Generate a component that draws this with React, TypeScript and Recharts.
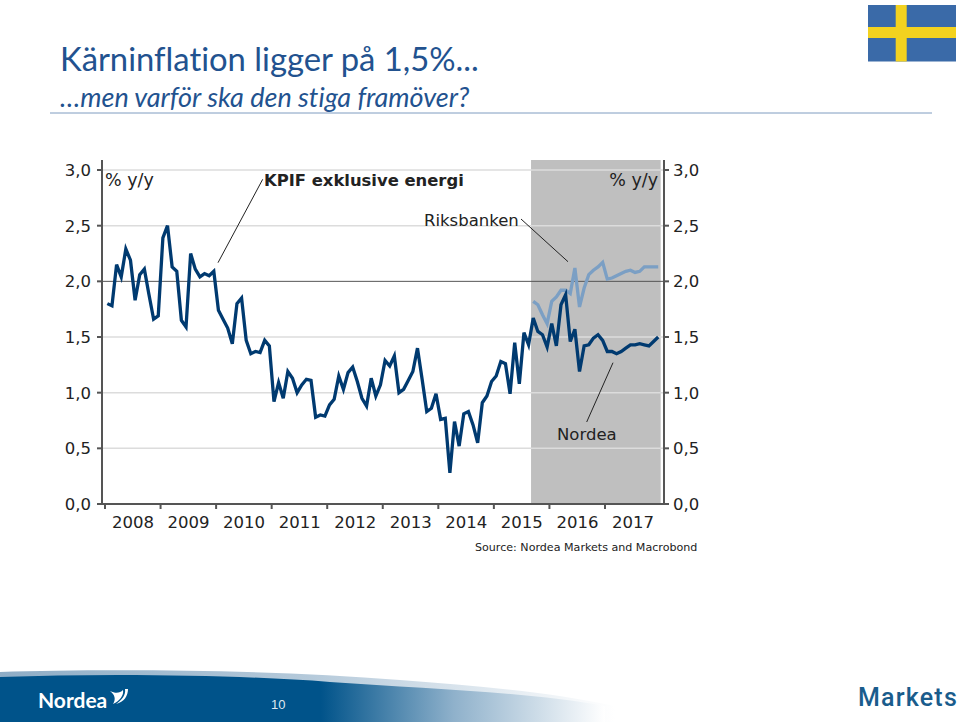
import React from "react";
import { LineChart, Line, XAxis, YAxis, ReferenceArea, ReferenceLine } from "recharts";

const yearLabels = ["2008","2009","2010","2011","2012","2013","2014","2015","2016","2017"];
const yTicks = [0,0.5,1,1.5,2,2.5,3];
const nordeaValues = [
1.80,1.78,2.15,2.04,2.29,2.19,1.83,2.06,2.11,1.88,1.66,1.69,
2.39,2.50,2.13,2.09,1.65,1.59,2.25,2.11,2.04,2.07,2.05,2.09,
1.74,1.66,1.58,1.44,1.80,1.85,1.47,1.35,1.37,1.36,1.47,1.42,
0.92,1.09,0.95,1.19,1.13,1.00,1.07,1.12,1.11,0.78,0.80,0.79,
0.89,0.94,1.15,1.03,1.18,1.23,1.10,0.95,0.88,1.13,0.97,1.07,
1.29,1.24,1.33,1.00,1.03,1.11,1.19,1.40,1.12,0.83,0.86,0.99,
0.76,0.77,0.28,0.74,0.52,0.81,0.83,0.71,0.55,0.91,0.97,1.10,
1.15,1.28,1.26,0.99,1.45,1.08,1.54,1.43,1.67,1.55,1.52,1.41,
1.62,1.42,1.79,1.88,1.46,1.57,1.19,1.42,1.43,1.49,1.52,1.47,
1.37,1.37,1.35,1.37,1.40,1.43,1.43,1.44,1.43,1.42,1.46,1.50];
const riksbankenStart = 92;
const riksbankenValues = [
1.82,1.79,1.70,1.62,1.82,1.86,1.92,1.92,1.89,2.12,1.77,1.94,
2.06,2.10,2.13,2.17,2.02,2.03,2.05,2.07,2.09,2.10,2.08,2.09,2.13,2.13,2.13,2.13];

const rows = nordeaValues.map((nordea, i) => ({
  month: i + 0.5,
  nordea,
  riksbanken: i >= riksbankenStart ? riksbankenValues[i - riksbankenStart] : null,
}));
const xTicks = yearLabels.map((_, i) => i * 12);
const axisFont = "'DejaVu Sans', sans-serif";
const tickStyle = { fontFamily: axisFont, fontSize: 16.5, fill: "#222" };
const comma = (v: number) => v.toFixed(1).replace(".", ",");

export default function App() {
  return (
    <div style={{ position: "absolute", left: 0, top: 0, width: 960, height: 722, background: "#fff", overflow: "hidden" }}>
      <svg width={960} height={722} style={{ position: "absolute", left: 0, top: 0 }}>
        <defs>
          <linearGradient id="dark" x1="0" x2="1" y1="0" y2="0">
            <stop offset="0" stopColor="#00538a" />
            <stop offset="0.53" stopColor="#00538a" />
            <stop offset="0.75" stopColor="#8fb1cb" />
            <stop offset="1" stopColor="#ffffff" />
          </linearGradient>
          <linearGradient id="pale" x1="0" x2="1" y1="0" y2="0">
            <stop offset="0" stopColor="#8fadc6" />
            <stop offset="0.5" stopColor="#b4c9da" />
            <stop offset="1" stopColor="#ffffff" />
          </linearGradient>
        </defs>
        <path d="M0 672 C100 669 260 669 400 680 C480 686 550 692 615 706 L615 722 L0 722 Z" fill="url(#pale)" />
        <path d="M0 677 C110 673 240 675 330 682 C430 689 530 692 605 706 L605 722 L0 722 Z" fill="url(#dark)" />
      </svg>
      <div style={{ position: "absolute", left: 0, top: 0 }}>
        <LineChart width={960} height={722} data={rows} margin={{ top: 160, right: 0, bottom: 0, left: 0 }}>
          <ReferenceArea yAxisId="left" x1={92.03} x2={120.03} y1={0} y2={3.09} fill="#bfbfbf" fillOpacity={1} stroke="none" />
          {yTicks.filter((t) => t !== 0 && t !== 2).map((t) => (
            <ReferenceLine key={t} yAxisId="left" y={t} stroke="#dcdcdc" strokeWidth={1.5} />
          ))}
          <ReferenceLine yAxisId="left" y={2} stroke="#555" strokeWidth={1} />
          <XAxis
            dataKey="month"
            type="number"
            domain={[-0.65, 120.75]}
            ticks={xTicks}
            interval={0}
            height={218}
            tickSize={5}
            tickMargin={7}
            tickFormatter={(v: number) => yearLabels[v / 12]}
            tick={{ ...tickStyle, dx: 28 }}
            stroke="#555"
            strokeWidth={2}
            tickLine={{ stroke: "#555", strokeWidth: 2 }}
            allowDataOverflow
          />
          <YAxis yAxisId="left" width={102} domain={[0, 3.09]} ticks={yTicks} interval={0} tickSize={5} tickMargin={6}
            tickFormatter={comma} tick={tickStyle} stroke="#555" strokeWidth={2} tickLine={{ stroke: "#555", strokeWidth: 2 }} />
          <YAxis yAxisId="right" orientation="right" width={296} domain={[0, 3.09]} ticks={yTicks} interval={0} tickSize={5} tickMargin={4}
            tickFormatter={comma} tick={tickStyle} stroke="#555" strokeWidth={2} tickLine={{ stroke: "#555", strokeWidth: 2 }} />
          <Line yAxisId="right" dataKey="riksbanken" stroke="#7b9fc4" strokeWidth={3.3} dot={false} isAnimationActive={false} connectNulls={false} strokeLinejoin="miter" />
          <Line yAxisId="left" dataKey="nordea" stroke="#003a70" strokeWidth={3.3} dot={false} isAnimationActive={false} strokeLinejoin="miter" />
        </LineChart>
      </div>
      <svg width={960} height={722} style={{ position: "absolute", left: 0, top: 0, pointerEvents: "none" }}>
        <text x={60} y={71} fontFamily="Lato, sans-serif" fontSize={32.8} fill="#22528f" style={{ fontVariantLigatures: "none" }}>Kärninflation ligger på 1,5%...</text>
        <text x={60} y={106.5} fontFamily="Lato, sans-serif" fontStyle="italic" fontSize={27} fill="#22528f" style={{ fontVariantLigatures: "none" }}>…men varför ska den stiga framöver?</text>
        <line x1={50} x2={932} y1={113} y2={113} stroke="#7f9cc0" strokeWidth={1} />
        <rect x={868} y={5} width={88} height={56.5} fill="#3a6aa8" />
        <rect x={895.7} y={5} width={11} height={56.5} fill="#f3d21f" />
        <rect x={868} y={27} width={88} height={11} fill="#f3d21f" />

        <g fontFamily={axisFont} fontSize={16.5} fill="#222">
          <text x={105} y={186} fontSize={17.5}>% y/y</text>
          <text x={658} y={186} fontSize={17.5} textAnchor="end">% y/y</text>
          <text x={264} y={186} fontWeight="bold" fontSize={16.4}>KPIF exklusive energi</text>
          <text x={424} y={226}>Riksbanken</text>
          <text x={557} y={440}>Nordea</text>
        </g>
        <text x={475} y={551} fontFamily={axisFont} fontSize={11.1} fill="#222">Source: Nordea Markets and Macrobond</text>
        <g stroke="#222" strokeWidth={1}>
          <line x1={262.7} y1={179.3} x2={218} y2={262.7} />
          <line x1={521} y1={219} x2={568} y2={261.7} />
          <line x1={613} y1={362.7} x2={586.7} y2={422} />
        </g>
        <text x={271} y={708.5} fontFamily="'Liberation Sans', sans-serif" fontSize={13} fill="#dfe8f0">10</text>
        <text x={38} y={708} fontFamily="Lato, sans-serif" fontWeight="bold" fontSize={21} fill="#fff">Nordea</text>
        <path d="M110 691 C116 694 120 693 123 690 C124 695 120 701 113 704 C116 699 115 695 110 691 Z M125 689 L128 689 C128 696 124 702 116 704 C122 700 126 695 125 689 Z" fill="#fff" />
        <text x={858} y={706} fontFamily="Roboto, sans-serif" fontWeight={500} fontSize={25} letterSpacing={1.2} fill="#1a5c8c">Markets</text>
      </svg>
    </div>
  );
}
